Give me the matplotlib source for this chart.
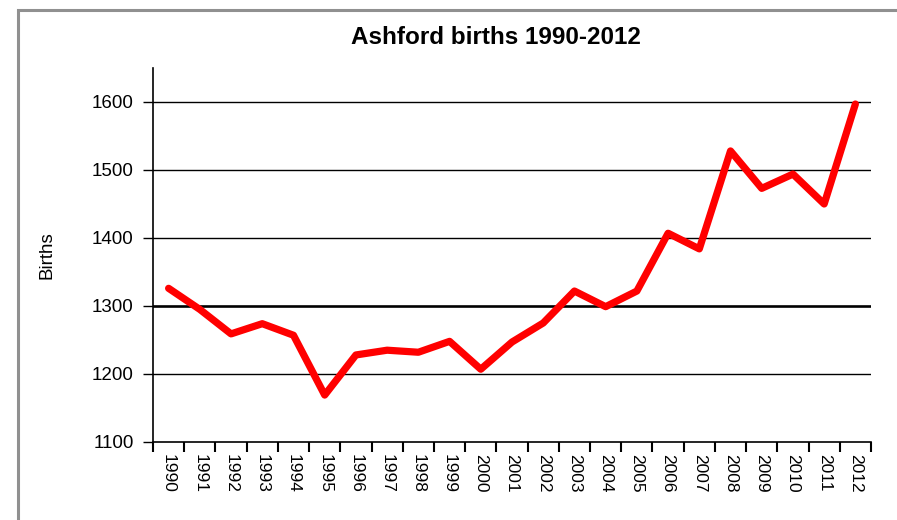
import matplotlib
matplotlib.use("Agg")
import matplotlib.pyplot as plt
from matplotlib.patches import Rectangle
import numpy as np

plt.rcParams['font.family'] = ['Liberation Sans', 'DejaVu Sans']

years = ["1990", "1991", "1992", "1993", "1994", "1995", "1996", "1997", "1998", "1999",
         "2000", "2001", "2002", "2003", "2004", "2005", "2006", "2007", "2008", "2009",
         "2010", "2011", "2012"]
births = [1326, 1295, 1259, 1274, 1257, 1169, 1228, 1235, 1232, 1248,
          1207, 1247, 1275, 1322, 1299, 1322, 1407, 1384, 1528, 1473,
          1494, 1450, 1597]
y_ticks = [1100, 1200, 1300, 1400, 1500, 1600]

W, H = 897, 520
fig = plt.figure(figsize=(W / 100, H / 100), dpi=100)

# outer frame (gray border at top and left)
fig.patches.append(Rectangle((18 / W, -0.1), 1.2, (H - 10) / H + 0.1, transform=fig.transFigure,
                             fill=False, edgecolor='#909090', linewidth=2.2, zorder=0))

ax = fig.add_axes([153 / W, 1 - 442 / H, (871 - 153) / W, (442 - 68) / H])
x = np.arange(len(years))

for t in y_ticks[1:]:
    ax.axhline(t, color='black', linewidth=1.9 if t == 1300 else 1.0, zorder=1)

ax.plot(x, births, color='#ff0000', linewidth=5.2, solid_capstyle='round',
        solid_joinstyle='round', zorder=3)

ax.set_xlim(-0.5, len(years) - 0.5)
ax.set_ylim(1100, 1650)
ax.set_yticks(y_ticks)
ax.set_yticklabels([str(t) for t in y_ticks], fontsize=13.5)

ax.set_xticks(np.arange(-0.5, len(years), 1.0))
ax.set_xticklabels([])
ax.set_xticks(x, minor=True)
ax.set_xticklabels(years, minor=True, rotation=270, fontsize=12.5, va='top', ha='center')
ax.tick_params(axis='x', which='minor', length=0, pad=9)
ax.tick_params(axis='x', which='major', length=7, width=1.5, direction='out', color='black')
ax.tick_params(axis='y', length=7, width=1, direction='out', pad=7)

for s in ['top', 'right']:
    ax.spines[s].set_visible(False)
for s in ['left', 'bottom']:
    ax.spines[s].set_linewidth(1.2)
    ax.spines[s].set_color('black')

ax.set_ylabel("Births", fontsize=13.5, labelpad=26)
fig.text(496 / W, 1 - 37 / H, "Ashford births 1990-2012", ha='center', va='center',
         fontsize=17.5, fontweight='bold')

fig.savefig("out.png", dpi=100)
